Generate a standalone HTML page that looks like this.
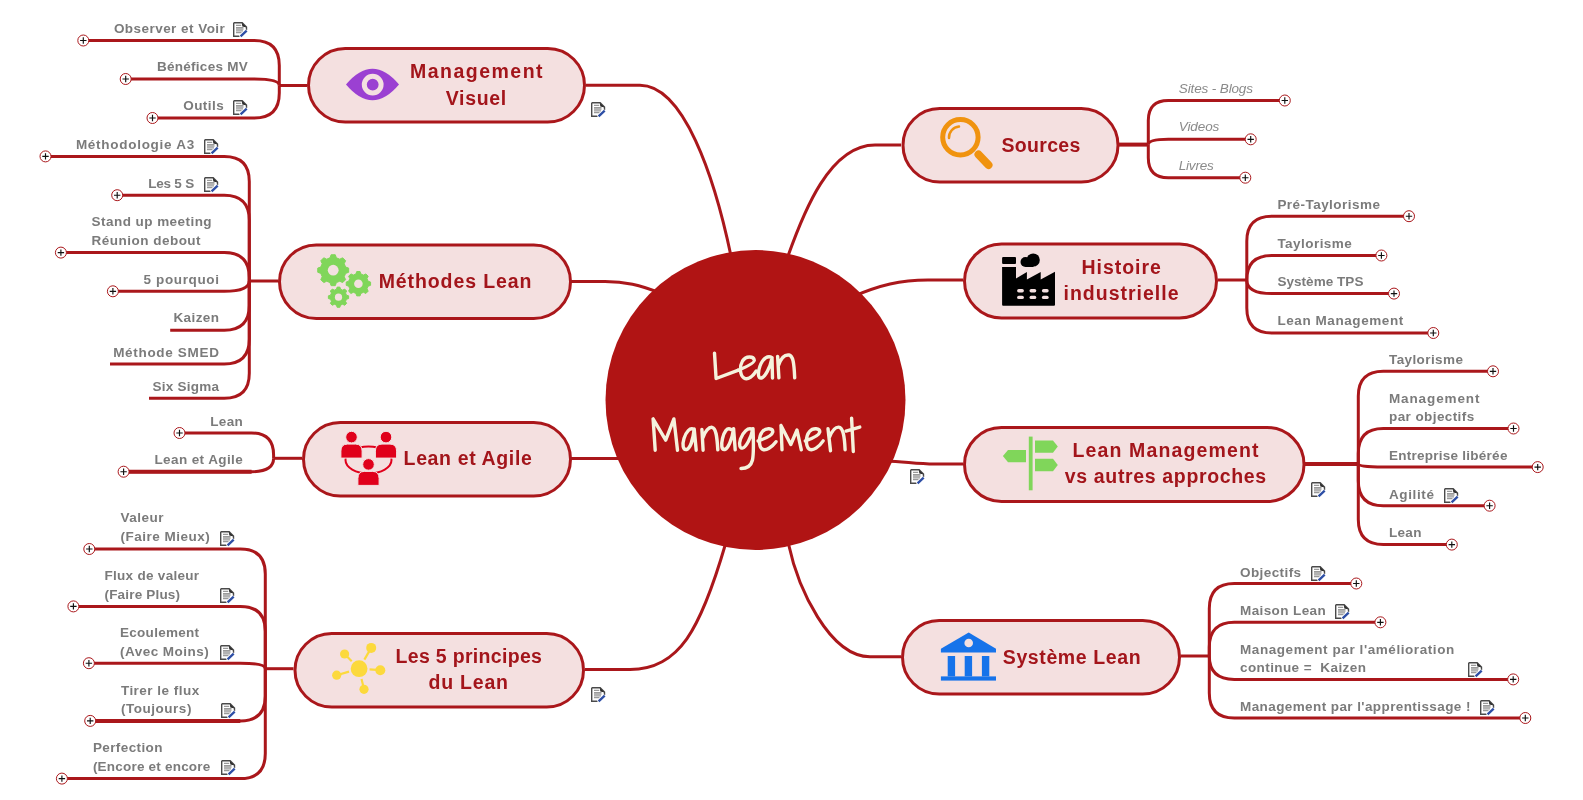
<!DOCTYPE html>
<html><head><meta charset="utf-8"><style>
html,body{margin:0;padding:0;background:#fff;width:1583px;height:800px;overflow:hidden;}
svg{display:block;will-change:transform;}
</style></head><body>
<svg width="1583" height="800" viewBox="0 0 1583 800">
<rect width="1583" height="800" fill="#fff"/>
<path d="M586 85.3 L640 85.3 C 683.7 85.3, 714.4 176.4, 731 256" fill="none" stroke="#aa171b" stroke-width="3"/>
<path d="M571 281.5 L605 281.5 C 625 281.5, 640 285, 660 293" fill="none" stroke="#aa171b" stroke-width="3"/>
<path d="M571 458.4 L625 458.4" fill="none" stroke="#aa171b" stroke-width="3"/>
<path d="M585 669.4 L630 669.4 C 679.2 669.4, 700.5 629.5, 725.5 544" fill="none" stroke="#aa171b" stroke-width="3"/>
<path d="M901 145 L875 145 C 829.7 145, 803.6 212.3, 788 256" fill="none" stroke="#aa171b" stroke-width="3"/>
<path d="M963 280.1 L928 280.1 C 900 280.1, 880 285, 852 297" fill="none" stroke="#aa171b" stroke-width="3"/>
<path d="M963 464 L935 464 C 915 464, 905 461.4, 885 461" fill="none" stroke="#aa171b" stroke-width="3"/>
<path d="M901 656.7 L870 656.7 C 829.4 656.7, 797.9 588.1, 788.5 544" fill="none" stroke="#aa171b" stroke-width="3"/>
<circle cx="755.5" cy="400" r="150" fill="#b01414"/>
<rect x="308.5" y="48.5" width="276.0" height="73.5" rx="36.75" ry="36.75" fill="#f4e0e0" stroke="#aa171b" stroke-width="3"/>
<rect x="279.5" y="245.0" width="291.0" height="73.5" rx="36.75" ry="36.75" fill="#f4e0e0" stroke="#aa171b" stroke-width="3"/>
<rect x="303.5" y="422.5" width="267.0" height="73.5" rx="36.75" ry="36.75" fill="#f4e0e0" stroke="#aa171b" stroke-width="3"/>
<rect x="295.0" y="633.5" width="288.5" height="73.5" rx="36.75" ry="36.75" fill="#f4e0e0" stroke="#aa171b" stroke-width="3"/>
<rect x="903.0" y="108.5" width="215.0" height="73.5" rx="36.75" ry="36.75" fill="#f4e0e0" stroke="#aa171b" stroke-width="3"/>
<rect x="964.5" y="244.0" width="252.0" height="74.0" rx="37.0" ry="37.0" fill="#f4e0e0" stroke="#aa171b" stroke-width="3"/>
<rect x="964.5" y="427.5" width="339.5" height="74.0" rx="37.0" ry="37.0" fill="#f4e0e0" stroke="#aa171b" stroke-width="3"/>
<rect x="902.5" y="620.5" width="277.0" height="73.5" rx="36.75" ry="36.75" fill="#f4e0e0" stroke="#aa171b" stroke-width="3"/>
<text x="409.9" y="78" font-family='"Liberation Sans", sans-serif' font-size="19.5" font-weight="bold" font-style="normal" fill="#a3151b" textLength="132.70000000000002" lengthAdjust="spacing" style="white-space:pre">Management</text>
<text x="445.8" y="105.3" font-family='"Liberation Sans", sans-serif' font-size="19.5" font-weight="bold" font-style="normal" fill="#a3151b" textLength="60.4" lengthAdjust="spacing" style="white-space:pre">Visuel</text>
<text x="378.7" y="288.1" font-family='"Liberation Sans", sans-serif' font-size="19.5" font-weight="bold" font-style="normal" fill="#a3151b" textLength="152.70000000000002" lengthAdjust="spacing" style="white-space:pre">Méthodes Lean</text>
<text x="403.6" y="465.2" font-family='"Liberation Sans", sans-serif' font-size="19.5" font-weight="bold" font-style="normal" fill="#a3151b" textLength="128.20000000000002" lengthAdjust="spacing" style="white-space:pre">Lean et Agile</text>
<text x="395.6" y="662.7" font-family='"Liberation Sans", sans-serif' font-size="19.5" font-weight="bold" font-style="normal" fill="#a3151b" textLength="146.3" lengthAdjust="spacing" style="white-space:pre">Les 5 principes</text>
<text x="428.5" y="689.3" font-family='"Liberation Sans", sans-serif' font-size="19.5" font-weight="bold" font-style="normal" fill="#a3151b" textLength="79.5" lengthAdjust="spacing" style="white-space:pre">du Lean</text>
<text x="1001.4" y="151.5" font-family='"Liberation Sans", sans-serif' font-size="19.5" font-weight="bold" font-style="normal" fill="#a3151b" textLength="79.0" lengthAdjust="spacing" style="white-space:pre">Sources</text>
<text x="1081.5" y="273.8" font-family='"Liberation Sans", sans-serif' font-size="19.5" font-weight="bold" font-style="normal" fill="#a3151b" textLength="79.3" lengthAdjust="spacing" style="white-space:pre">Histoire</text>
<text x="1063.5" y="300.3" font-family='"Liberation Sans", sans-serif' font-size="19.5" font-weight="bold" font-style="normal" fill="#a3151b" textLength="115.0" lengthAdjust="spacing" style="white-space:pre">industrielle</text>
<text x="1072.4" y="456.9" font-family='"Liberation Sans", sans-serif' font-size="19.5" font-weight="bold" font-style="normal" fill="#a3151b" textLength="186.20000000000002" lengthAdjust="spacing" style="white-space:pre">Lean Management</text>
<text x="1064.8" y="483" font-family='"Liberation Sans", sans-serif' font-size="19.5" font-weight="bold" font-style="normal" fill="#a3151b" textLength="201.4" lengthAdjust="spacing" style="white-space:pre">vs autres approches</text>
<text x="1002.8" y="663.7" font-family='"Liberation Sans", sans-serif' font-size="19.5" font-weight="bold" font-style="normal" fill="#a3151b" textLength="137.8" lengthAdjust="spacing" style="white-space:pre">Système Lean</text>
<path d="M307 85.5 H279.3" stroke="#aa171b" stroke-width="3" fill="none"/>
<path d="M279.3 85.5 V65.5 Q279.3 40.5 254.3 40.5 H83.3" stroke="#aa171b" stroke-width="3" fill="none"/>
<path d="M279.3 85.5 V85.5 Q279.3 79 254.3 79 H125.7" stroke="#aa171b" stroke-width="3" fill="none"/>
<path d="M279.3 85.5 V93.0 Q279.3 118 254.3 118 H152.5" stroke="#aa171b" stroke-width="3" fill="none"/>
<circle cx="83.3" cy="40.5" r="5.5" fill="#fff" stroke="#aa171b" stroke-width="1"/><path d="M80.1 40.5 H86.5 M83.3 37.3 V43.7" stroke="#111" stroke-width="1.15"/>
<text x="113.9" y="32.7" font-family='"Liberation Sans", sans-serif' font-size="13.5" font-weight="bold" font-style="normal" fill="#7b7b7b" textLength="110.9" lengthAdjust="spacing" style="white-space:pre">Observer et Voir</text>
<g transform="translate(233,22)"><path d="M0.7 0.7 H9.2 L13.5 5 V8 M6.5 14.3 H0.7 V0.7" fill="#fff" stroke="#4a4a4a" stroke-width="1.4"/><path d="M8.8 0.7 L13.8 5.6 L9.3 4.6 Z" fill="#2a2a2a"/><path d="M3 3.4 H8.2 M3 5.6 H10.5 M3 7.2 H10.5 M3 8.8 H10 M3 10.6 H8.5" stroke="#9a9a9a" stroke-width="1.2"/><path d="M7.2 14.6 L14 8.3" stroke="#fff" stroke-width="3.6" opacity="0.8"/><path d="M7.6 14.3 L13.7 8.6" stroke="#2d4ea5" stroke-width="2.3"/></g>
<circle cx="125.7" cy="79" r="5.5" fill="#fff" stroke="#aa171b" stroke-width="1"/><path d="M122.5 79 H128.9 M125.7 75.8 V82.2" stroke="#111" stroke-width="1.15"/>
<text x="156.89999999999998" y="71.3" font-family='"Liberation Sans", sans-serif' font-size="13.5" font-weight="bold" font-style="normal" fill="#7b7b7b" textLength="90.9" lengthAdjust="spacing" style="white-space:pre">Bénéfices MV</text>
<circle cx="152.5" cy="118" r="5.5" fill="#fff" stroke="#aa171b" stroke-width="1"/><path d="M149.3 118 H155.7 M152.5 114.8 V121.2" stroke="#111" stroke-width="1.15"/>
<text x="183.2" y="110" font-family='"Liberation Sans", sans-serif' font-size="13.5" font-weight="bold" font-style="normal" fill="#7b7b7b" textLength="40.5" lengthAdjust="spacing" style="white-space:pre">Outils</text>
<g transform="translate(233,100)"><path d="M0.7 0.7 H9.2 L13.5 5 V8 M6.5 14.3 H0.7 V0.7" fill="#fff" stroke="#4a4a4a" stroke-width="1.4"/><path d="M8.8 0.7 L13.8 5.6 L9.3 4.6 Z" fill="#2a2a2a"/><path d="M3 3.4 H8.2 M3 5.6 H10.5 M3 7.2 H10.5 M3 8.8 H10 M3 10.6 H8.5" stroke="#9a9a9a" stroke-width="1.2"/><path d="M7.2 14.6 L14 8.3" stroke="#fff" stroke-width="3.6" opacity="0.8"/><path d="M7.6 14.3 L13.7 8.6" stroke="#2d4ea5" stroke-width="2.3"/></g>
<path d="M278.4 281 H249.3" stroke="#aa171b" stroke-width="3" fill="none"/>
<path d="M249.3 281 V181.4 Q249.3 156.4 224.3 156.4 H45.5" stroke="#aa171b" stroke-width="3" fill="none"/>
<path d="M249.3 281 V220.2 Q249.3 195.2 224.3 195.2 H117.2" stroke="#aa171b" stroke-width="3" fill="none"/>
<path d="M249.3 281 V277.6 Q249.3 252.6 224.3 252.6 H60.9" stroke="#aa171b" stroke-width="3" fill="none"/>
<path d="M249.3 281 V281 Q249.3 291.3 224.3 291.3 H112.9" stroke="#aa171b" stroke-width="3" fill="none"/>
<path d="M249.3 281 V305.3 Q249.3 330.3 224.3 330.3 H170.2" stroke="#aa171b" stroke-width="3" fill="none"/>
<path d="M249.3 281 V339 Q249.3 364 224.3 364 H110" stroke="#aa171b" stroke-width="3" fill="none"/>
<path d="M249.3 281 V373.3 Q249.3 398.3 224.3 398.3 H149" stroke="#aa171b" stroke-width="3" fill="none"/>
<circle cx="45.5" cy="156.4" r="5.5" fill="#fff" stroke="#aa171b" stroke-width="1"/><path d="M42.3 156.4 H48.7 M45.5 153.20000000000002 V159.6" stroke="#111" stroke-width="1.15"/>
<text x="75.9" y="148.8" font-family='"Liberation Sans", sans-serif' font-size="13.5" font-weight="bold" font-style="normal" fill="#7b7b7b" textLength="118.3" lengthAdjust="spacing" style="white-space:pre">Méthodologie A3</text>
<g transform="translate(204,139)"><path d="M0.7 0.7 H9.2 L13.5 5 V8 M6.5 14.3 H0.7 V0.7" fill="#fff" stroke="#4a4a4a" stroke-width="1.4"/><path d="M8.8 0.7 L13.8 5.6 L9.3 4.6 Z" fill="#2a2a2a"/><path d="M3 3.4 H8.2 M3 5.6 H10.5 M3 7.2 H10.5 M3 8.8 H10 M3 10.6 H8.5" stroke="#9a9a9a" stroke-width="1.2"/><path d="M7.2 14.6 L14 8.3" stroke="#fff" stroke-width="3.6" opacity="0.8"/><path d="M7.6 14.3 L13.7 8.6" stroke="#2d4ea5" stroke-width="2.3"/></g>
<circle cx="117.2" cy="195.2" r="5.5" fill="#fff" stroke="#aa171b" stroke-width="1"/><path d="M114.0 195.2 H120.4 M117.2 192.0 V198.39999999999998" stroke="#111" stroke-width="1.15"/>
<text x="148.2" y="187.6" font-family='"Liberation Sans", sans-serif' font-size="13.5" font-weight="bold" font-style="normal" fill="#7b7b7b" textLength="46.0" lengthAdjust="spacing" style="white-space:pre">Les 5 S</text>
<g transform="translate(204,177)"><path d="M0.7 0.7 H9.2 L13.5 5 V8 M6.5 14.3 H0.7 V0.7" fill="#fff" stroke="#4a4a4a" stroke-width="1.4"/><path d="M8.8 0.7 L13.8 5.6 L9.3 4.6 Z" fill="#2a2a2a"/><path d="M3 3.4 H8.2 M3 5.6 H10.5 M3 7.2 H10.5 M3 8.8 H10 M3 10.6 H8.5" stroke="#9a9a9a" stroke-width="1.2"/><path d="M7.2 14.6 L14 8.3" stroke="#fff" stroke-width="3.6" opacity="0.8"/><path d="M7.6 14.3 L13.7 8.6" stroke="#2d4ea5" stroke-width="2.3"/></g>
<circle cx="60.9" cy="252.6" r="5.5" fill="#fff" stroke="#aa171b" stroke-width="1"/><path d="M57.699999999999996 252.6 H64.1 M60.9 249.4 V255.79999999999998" stroke="#111" stroke-width="1.15"/>
<text x="91.60000000000001" y="226.1" font-family='"Liberation Sans", sans-serif' font-size="13.5" font-weight="bold" font-style="normal" fill="#7b7b7b" textLength="120.0" lengthAdjust="spacing" style="white-space:pre">Stand up meeting</text>
<text x="91.60000000000001" y="245" font-family='"Liberation Sans", sans-serif' font-size="13.5" font-weight="bold" font-style="normal" fill="#7b7b7b" textLength="109.0" lengthAdjust="spacing" style="white-space:pre">Réunion debout</text>
<circle cx="112.9" cy="291.3" r="5.5" fill="#fff" stroke="#aa171b" stroke-width="1"/><path d="M109.7 291.3 H116.10000000000001 M112.9 288.1 V294.5" stroke="#111" stroke-width="1.15"/>
<text x="143.6" y="283.8" font-family='"Liberation Sans", sans-serif' font-size="13.5" font-weight="bold" font-style="normal" fill="#7b7b7b" textLength="75.3" lengthAdjust="spacing" style="white-space:pre">5 pourquoi</text>
<text x="173.5" y="322.4" font-family='"Liberation Sans", sans-serif' font-size="13.5" font-weight="bold" font-style="normal" fill="#7b7b7b" textLength="45.400000000000006" lengthAdjust="spacing" style="white-space:pre">Kaizen</text>
<text x="113.2" y="356.5" font-family='"Liberation Sans", sans-serif' font-size="13.5" font-weight="bold" font-style="normal" fill="#7b7b7b" textLength="105.7" lengthAdjust="spacing" style="white-space:pre">Méthode SMED</text>
<text x="152.6" y="390.8" font-family='"Liberation Sans", sans-serif' font-size="13.5" font-weight="bold" font-style="normal" fill="#7b7b7b" textLength="66.3" lengthAdjust="spacing" style="white-space:pre">Six Sigma</text>
<path d="M302 458.3 H273.6" stroke="#aa171b" stroke-width="3" fill="none"/>
<path d="M273.6 458.3 V455.0 Q273.6 433 251.60000000000002 433 H179.5" stroke="#aa171b" stroke-width="3" fill="none"/>
<path d="M273.6 458.3 V458.3 Q273.6 471.7 251.60000000000002 471.7 H123.6" stroke="#aa171b" stroke-width="3" fill="none"/>
<path d="M123.6 471.7 H251.60000000000002" stroke="#aa171b" stroke-width="4" fill="none"/>
<circle cx="179.5" cy="433" r="5.5" fill="#fff" stroke="#aa171b" stroke-width="1"/><path d="M176.3 433 H182.7 M179.5 429.8 V436.2" stroke="#111" stroke-width="1.15"/>
<text x="210.2" y="425.6" font-family='"Liberation Sans", sans-serif' font-size="13.5" font-weight="bold" font-style="normal" fill="#7b7b7b" textLength="32.6" lengthAdjust="spacing" style="white-space:pre">Lean</text>
<circle cx="123.6" cy="471.7" r="5.5" fill="#fff" stroke="#aa171b" stroke-width="1"/><path d="M120.39999999999999 471.7 H126.8 M123.6 468.5 V474.9" stroke="#111" stroke-width="1.15"/>
<text x="154.39999999999998" y="464.4" font-family='"Liberation Sans", sans-serif' font-size="13.5" font-weight="bold" font-style="normal" fill="#7b7b7b" textLength="88.4" lengthAdjust="spacing" style="white-space:pre">Lean et Agile</text>
<path d="M293.5 668.7 H265.3" stroke="#aa171b" stroke-width="3" fill="none"/>
<path d="M265.3 668.7 V574.0 Q265.3 549 240.3 549 H89.3" stroke="#aa171b" stroke-width="3" fill="none"/>
<path d="M265.3 668.7 V631.4 Q265.3 606.4 240.3 606.4 H73.4" stroke="#aa171b" stroke-width="3" fill="none"/>
<path d="M265.3 668.7 V668.7 Q265.3 663.2 240.3 663.2 H88.9" stroke="#aa171b" stroke-width="3" fill="none"/>
<path d="M265.3 668.7 V695.9 Q265.3 720.9 240.3 720.9 H90.2" stroke="#aa171b" stroke-width="3" fill="none"/>
<path d="M90.2 720.9 H240.3" stroke="#aa171b" stroke-width="4" fill="none"/>
<path d="M265.3 668.7 V753.6 Q265.3 778.6 240.3 778.6 H61.9" stroke="#aa171b" stroke-width="3" fill="none"/>
<circle cx="89.3" cy="549" r="5.5" fill="#fff" stroke="#aa171b" stroke-width="1"/><path d="M86.1 549 H92.5 M89.3 545.8 V552.2" stroke="#111" stroke-width="1.15"/>
<text x="120.4" y="522.4" font-family='"Liberation Sans", sans-serif' font-size="13.5" font-weight="bold" font-style="normal" fill="#7b7b7b" textLength="43.2" lengthAdjust="spacing" style="white-space:pre">Valeur</text>
<text x="120.4" y="541.1" font-family='"Liberation Sans", sans-serif' font-size="13.5" font-weight="bold" font-style="normal" fill="#7b7b7b" textLength="89.4" lengthAdjust="spacing" style="white-space:pre">(Faire Mieux)</text>
<g transform="translate(220,531)"><path d="M0.7 0.7 H9.2 L13.5 5 V8 M6.5 14.3 H0.7 V0.7" fill="#fff" stroke="#4a4a4a" stroke-width="1.4"/><path d="M8.8 0.7 L13.8 5.6 L9.3 4.6 Z" fill="#2a2a2a"/><path d="M3 3.4 H8.2 M3 5.6 H10.5 M3 7.2 H10.5 M3 8.8 H10 M3 10.6 H8.5" stroke="#9a9a9a" stroke-width="1.2"/><path d="M7.2 14.6 L14 8.3" stroke="#fff" stroke-width="3.6" opacity="0.8"/><path d="M7.6 14.3 L13.7 8.6" stroke="#2d4ea5" stroke-width="2.3"/></g>
<circle cx="73.4" cy="606.4" r="5.5" fill="#fff" stroke="#aa171b" stroke-width="1"/><path d="M70.2 606.4 H76.60000000000001 M73.4 603.1999999999999 V609.6" stroke="#111" stroke-width="1.15"/>
<text x="104.5" y="579.8" font-family='"Liberation Sans", sans-serif' font-size="13.5" font-weight="bold" font-style="normal" fill="#7b7b7b" textLength="94.60000000000001" lengthAdjust="spacing" style="white-space:pre">Flux de valeur</text>
<text x="104.5" y="598.5" font-family='"Liberation Sans", sans-serif' font-size="13.5" font-weight="bold" font-style="normal" fill="#7b7b7b" textLength="75.5" lengthAdjust="spacing" style="white-space:pre">(Faire Plus)</text>
<g transform="translate(220,588)"><path d="M0.7 0.7 H9.2 L13.5 5 V8 M6.5 14.3 H0.7 V0.7" fill="#fff" stroke="#4a4a4a" stroke-width="1.4"/><path d="M8.8 0.7 L13.8 5.6 L9.3 4.6 Z" fill="#2a2a2a"/><path d="M3 3.4 H8.2 M3 5.6 H10.5 M3 7.2 H10.5 M3 8.8 H10 M3 10.6 H8.5" stroke="#9a9a9a" stroke-width="1.2"/><path d="M7.2 14.6 L14 8.3" stroke="#fff" stroke-width="3.6" opacity="0.8"/><path d="M7.6 14.3 L13.7 8.6" stroke="#2d4ea5" stroke-width="2.3"/></g>
<circle cx="88.9" cy="663.2" r="5.5" fill="#fff" stroke="#aa171b" stroke-width="1"/><path d="M85.7 663.2 H92.10000000000001 M88.9 660.0 V666.4000000000001" stroke="#111" stroke-width="1.15"/>
<text x="120.0" y="637.2" font-family='"Liberation Sans", sans-serif' font-size="13.5" font-weight="bold" font-style="normal" fill="#7b7b7b" textLength="79.10000000000001" lengthAdjust="spacing" style="white-space:pre">Ecoulement</text>
<text x="120.0" y="656" font-family='"Liberation Sans", sans-serif' font-size="13.5" font-weight="bold" font-style="normal" fill="#7b7b7b" textLength="88.7" lengthAdjust="spacing" style="white-space:pre">(Avec Moins)</text>
<g transform="translate(220,645)"><path d="M0.7 0.7 H9.2 L13.5 5 V8 M6.5 14.3 H0.7 V0.7" fill="#fff" stroke="#4a4a4a" stroke-width="1.4"/><path d="M8.8 0.7 L13.8 5.6 L9.3 4.6 Z" fill="#2a2a2a"/><path d="M3 3.4 H8.2 M3 5.6 H10.5 M3 7.2 H10.5 M3 8.8 H10 M3 10.6 H8.5" stroke="#9a9a9a" stroke-width="1.2"/><path d="M7.2 14.6 L14 8.3" stroke="#fff" stroke-width="3.6" opacity="0.8"/><path d="M7.6 14.3 L13.7 8.6" stroke="#2d4ea5" stroke-width="2.3"/></g>
<circle cx="90.2" cy="720.9" r="5.5" fill="#fff" stroke="#aa171b" stroke-width="1"/><path d="M87.0 720.9 H93.4 M90.2 717.6999999999999 V724.1" stroke="#111" stroke-width="1.15"/>
<text x="120.9" y="694.6" font-family='"Liberation Sans", sans-serif' font-size="13.5" font-weight="bold" font-style="normal" fill="#7b7b7b" textLength="78.3" lengthAdjust="spacing" style="white-space:pre">Tirer le flux</text>
<text x="120.9" y="713" font-family='"Liberation Sans", sans-serif' font-size="13.5" font-weight="bold" font-style="normal" fill="#7b7b7b" textLength="70.5" lengthAdjust="spacing" style="white-space:pre">(Toujours)</text>
<g transform="translate(221,703)"><path d="M0.7 0.7 H9.2 L13.5 5 V8 M6.5 14.3 H0.7 V0.7" fill="#fff" stroke="#4a4a4a" stroke-width="1.4"/><path d="M8.8 0.7 L13.8 5.6 L9.3 4.6 Z" fill="#2a2a2a"/><path d="M3 3.4 H8.2 M3 5.6 H10.5 M3 7.2 H10.5 M3 8.8 H10 M3 10.6 H8.5" stroke="#9a9a9a" stroke-width="1.2"/><path d="M7.2 14.6 L14 8.3" stroke="#fff" stroke-width="3.6" opacity="0.8"/><path d="M7.6 14.3 L13.7 8.6" stroke="#2d4ea5" stroke-width="2.3"/></g>
<circle cx="61.9" cy="778.6" r="5.5" fill="#fff" stroke="#aa171b" stroke-width="1"/><path d="M58.699999999999996 778.6 H65.1 M61.9 775.4 V781.8000000000001" stroke="#111" stroke-width="1.15"/>
<text x="92.9" y="751.8" font-family='"Liberation Sans", sans-serif' font-size="13.5" font-weight="bold" font-style="normal" fill="#7b7b7b" textLength="69.60000000000001" lengthAdjust="spacing" style="white-space:pre">Perfection</text>
<text x="92.9" y="770.7" font-family='"Liberation Sans", sans-serif' font-size="13.5" font-weight="bold" font-style="normal" fill="#7b7b7b" textLength="117.4" lengthAdjust="spacing" style="white-space:pre">(Encore et encore</text>
<g transform="translate(221,760)"><path d="M0.7 0.7 H9.2 L13.5 5 V8 M6.5 14.3 H0.7 V0.7" fill="#fff" stroke="#4a4a4a" stroke-width="1.4"/><path d="M8.8 0.7 L13.8 5.6 L9.3 4.6 Z" fill="#2a2a2a"/><path d="M3 3.4 H8.2 M3 5.6 H10.5 M3 7.2 H10.5 M3 8.8 H10 M3 10.6 H8.5" stroke="#9a9a9a" stroke-width="1.2"/><path d="M7.2 14.6 L14 8.3" stroke="#fff" stroke-width="3.6" opacity="0.8"/><path d="M7.6 14.3 L13.7 8.6" stroke="#2d4ea5" stroke-width="2.3"/></g>
<path d="M1119 144.6 H1148.3" stroke="#aa171b" stroke-width="4" fill="none"/>
<path d="M1148.3 144.6 V120.5 Q1148.3 100.5 1168.3 100.5 H1284.8" stroke="#aa171b" stroke-width="3" fill="none"/>
<path d="M1148.3 144.6 V144.6 Q1148.3 139.3 1168.3 139.3 H1250.7" stroke="#aa171b" stroke-width="3" fill="none"/>
<path d="M1148.3 144.6 V157.7 Q1148.3 177.7 1168.3 177.7 H1245.3" stroke="#aa171b" stroke-width="3" fill="none"/>
<circle cx="1284.8" cy="100.5" r="5.5" fill="#fff" stroke="#aa171b" stroke-width="1"/><path d="M1281.6 100.5 H1288.0 M1284.8 97.3 V103.7" stroke="#111" stroke-width="1.15"/>
<text x="1178.8" y="92.8" font-family='"Liberation Sans", sans-serif' font-size="13.5" font-weight="normal" font-style="italic" fill="#8a8a8a" textLength="74.2" lengthAdjust="spacing" style="white-space:pre">Sites - Blogs</text>
<circle cx="1250.7" cy="139.3" r="5.5" fill="#fff" stroke="#aa171b" stroke-width="1"/><path d="M1247.5 139.3 H1253.9 M1250.7 136.10000000000002 V142.5" stroke="#111" stroke-width="1.15"/>
<text x="1178.8" y="131.2" font-family='"Liberation Sans", sans-serif' font-size="13.5" font-weight="normal" font-style="italic" fill="#8a8a8a" textLength="40.5" lengthAdjust="spacing" style="white-space:pre">Videos</text>
<circle cx="1245.3" cy="177.7" r="5.5" fill="#fff" stroke="#aa171b" stroke-width="1"/><path d="M1242.1 177.7 H1248.5 M1245.3 174.5 V180.89999999999998" stroke="#111" stroke-width="1.15"/>
<text x="1178.8" y="169.8" font-family='"Liberation Sans", sans-serif' font-size="13.5" font-weight="normal" font-style="italic" fill="#8a8a8a" textLength="34.9" lengthAdjust="spacing" style="white-space:pre">Livres</text>
<path d="M1217.7 280 H1246.8" stroke="#aa171b" stroke-width="3" fill="none"/>
<path d="M1246.8 280 V241.2 Q1246.8 216.2 1271.8 216.2 H1409" stroke="#aa171b" stroke-width="3" fill="none"/>
<path d="M1246.8 280 V280 Q1246.8 255.5 1271.8 255.5 H1381.4" stroke="#aa171b" stroke-width="3" fill="none"/>
<path d="M1246.8 280 V280 Q1246.8 293.6 1271.8 293.6 H1394" stroke="#aa171b" stroke-width="3" fill="none"/>
<path d="M1246.8 280 V308 Q1246.8 333 1271.8 333 H1433.3" stroke="#aa171b" stroke-width="3" fill="none"/>
<circle cx="1409" cy="216.2" r="5.5" fill="#fff" stroke="#aa171b" stroke-width="1"/><path d="M1405.8 216.2 H1412.2 M1409 213.0 V219.39999999999998" stroke="#111" stroke-width="1.15"/>
<text x="1277.4" y="209" font-family='"Liberation Sans", sans-serif' font-size="13.5" font-weight="bold" font-style="normal" fill="#7b7b7b" textLength="102.5" lengthAdjust="spacing" style="white-space:pre">Pré-Taylorisme</text>
<circle cx="1381.4" cy="255.5" r="5.5" fill="#fff" stroke="#aa171b" stroke-width="1"/><path d="M1378.2 255.5 H1384.6000000000001 M1381.4 252.3 V258.7" stroke="#111" stroke-width="1.15"/>
<text x="1277.4" y="247.7" font-family='"Liberation Sans", sans-serif' font-size="13.5" font-weight="bold" font-style="normal" fill="#7b7b7b" textLength="74.4" lengthAdjust="spacing" style="white-space:pre">Taylorisme</text>
<circle cx="1394" cy="293.6" r="5.5" fill="#fff" stroke="#aa171b" stroke-width="1"/><path d="M1390.8 293.6 H1397.2 M1394 290.40000000000003 V296.8" stroke="#111" stroke-width="1.15"/>
<text x="1277.4" y="285.9" font-family='"Liberation Sans", sans-serif' font-size="13.5" font-weight="bold" font-style="normal" fill="#7b7b7b" textLength="86.0" lengthAdjust="spacing" style="white-space:pre">Système TPS</text>
<circle cx="1433.3" cy="333" r="5.5" fill="#fff" stroke="#aa171b" stroke-width="1"/><path d="M1430.1 333 H1436.5 M1433.3 329.8 V336.2" stroke="#111" stroke-width="1.15"/>
<text x="1277.4" y="324.6" font-family='"Liberation Sans", sans-serif' font-size="13.5" font-weight="bold" font-style="normal" fill="#7b7b7b" textLength="125.8" lengthAdjust="spacing" style="white-space:pre">Lean Management</text>
<path d="M1305 464 H1358.3" stroke="#aa171b" stroke-width="4" fill="none"/>
<path d="M1358.3 464 V396.3 Q1358.3 371.3 1383.3 371.3 H1493" stroke="#aa171b" stroke-width="3" fill="none"/>
<path d="M1358.3 464 V453.5 Q1358.3 428.5 1383.3 428.5 H1513.5" stroke="#aa171b" stroke-width="3" fill="none"/>
<path d="M1358.3 464 V464 Q1358.3 467.1 1383.3 467.1 H1537.7" stroke="#aa171b" stroke-width="3" fill="none"/>
<path d="M1358.3 464 V480.7 Q1358.3 505.7 1383.3 505.7 H1489.6" stroke="#aa171b" stroke-width="3" fill="none"/>
<path d="M1358.3 464 V519.6 Q1358.3 544.6 1383.3 544.6 H1451.8" stroke="#aa171b" stroke-width="3" fill="none"/>
<circle cx="1493" cy="371.3" r="5.5" fill="#fff" stroke="#aa171b" stroke-width="1"/><path d="M1489.8 371.3 H1496.2 M1493 368.1 V374.5" stroke="#111" stroke-width="1.15"/>
<text x="1389.0" y="363.9" font-family='"Liberation Sans", sans-serif' font-size="13.5" font-weight="bold" font-style="normal" fill="#7b7b7b" textLength="73.9" lengthAdjust="spacing" style="white-space:pre">Taylorisme</text>
<circle cx="1513.5" cy="428.5" r="5.5" fill="#fff" stroke="#aa171b" stroke-width="1"/><path d="M1510.3 428.5 H1516.7 M1513.5 425.3 V431.7" stroke="#111" stroke-width="1.15"/>
<text x="1389.0" y="402.8" font-family='"Liberation Sans", sans-serif' font-size="13.5" font-weight="bold" font-style="normal" fill="#7b7b7b" textLength="90.4" lengthAdjust="spacing" style="white-space:pre">Management</text>
<text x="1389.0" y="421.2" font-family='"Liberation Sans", sans-serif' font-size="13.5" font-weight="bold" font-style="normal" fill="#7b7b7b" textLength="85.2" lengthAdjust="spacing" style="white-space:pre">par objectifs</text>
<circle cx="1537.7" cy="467.1" r="5.5" fill="#fff" stroke="#aa171b" stroke-width="1"/><path d="M1534.5 467.1 H1540.9 M1537.7 463.90000000000003 V470.3" stroke="#111" stroke-width="1.15"/>
<text x="1389.0" y="460" font-family='"Liberation Sans", sans-serif' font-size="13.5" font-weight="bold" font-style="normal" fill="#7b7b7b" textLength="118.4" lengthAdjust="spacing" style="white-space:pre">Entreprise libérée</text>
<circle cx="1489.6" cy="505.7" r="5.5" fill="#fff" stroke="#aa171b" stroke-width="1"/><path d="M1486.3999999999999 505.7 H1492.8 M1489.6 502.5 V508.9" stroke="#111" stroke-width="1.15"/>
<text x="1389.0" y="498.6" font-family='"Liberation Sans", sans-serif' font-size="13.5" font-weight="bold" font-style="normal" fill="#7b7b7b" textLength="45.0" lengthAdjust="spacing" style="white-space:pre">Agilité</text>
<g transform="translate(1444,488)"><path d="M0.7 0.7 H9.2 L13.5 5 V8 M6.5 14.3 H0.7 V0.7" fill="#fff" stroke="#4a4a4a" stroke-width="1.4"/><path d="M8.8 0.7 L13.8 5.6 L9.3 4.6 Z" fill="#2a2a2a"/><path d="M3 3.4 H8.2 M3 5.6 H10.5 M3 7.2 H10.5 M3 8.8 H10 M3 10.6 H8.5" stroke="#9a9a9a" stroke-width="1.2"/><path d="M7.2 14.6 L14 8.3" stroke="#fff" stroke-width="3.6" opacity="0.8"/><path d="M7.6 14.3 L13.7 8.6" stroke="#2d4ea5" stroke-width="2.3"/></g>
<circle cx="1451.8" cy="544.6" r="5.5" fill="#fff" stroke="#aa171b" stroke-width="1"/><path d="M1448.6 544.6 H1455.0 M1451.8 541.4 V547.8000000000001" stroke="#111" stroke-width="1.15"/>
<text x="1389.0" y="537.2" font-family='"Liberation Sans", sans-serif' font-size="13.5" font-weight="bold" font-style="normal" fill="#7b7b7b" textLength="32.4" lengthAdjust="spacing" style="white-space:pre">Lean</text>
<path d="M1180.5 656 H1209.3" stroke="#aa171b" stroke-width="3" fill="none"/>
<path d="M1209.3 656 V608.5 Q1209.3 583.5 1234.3 583.5 H1356.3" stroke="#aa171b" stroke-width="3" fill="none"/>
<path d="M1209.3 656 V647.3 Q1209.3 622.3 1234.3 622.3 H1380.4" stroke="#aa171b" stroke-width="3" fill="none"/>
<path d="M1209.3 656 V656 Q1209.3 679.4 1234.3 679.4 H1513.2" stroke="#aa171b" stroke-width="3" fill="none"/>
<path d="M1209.3 656 V693 Q1209.3 718 1234.3 718 H1525.3" stroke="#aa171b" stroke-width="3" fill="none"/>
<circle cx="1356.3" cy="583.5" r="5.5" fill="#fff" stroke="#aa171b" stroke-width="1"/><path d="M1353.1 583.5 H1359.5 M1356.3 580.3 V586.7" stroke="#111" stroke-width="1.15"/>
<text x="1240.0" y="576.5" font-family='"Liberation Sans", sans-serif' font-size="13.5" font-weight="bold" font-style="normal" fill="#7b7b7b" textLength="61.1" lengthAdjust="spacing" style="white-space:pre">Objectifs</text>
<g transform="translate(1311,566)"><path d="M0.7 0.7 H9.2 L13.5 5 V8 M6.5 14.3 H0.7 V0.7" fill="#fff" stroke="#4a4a4a" stroke-width="1.4"/><path d="M8.8 0.7 L13.8 5.6 L9.3 4.6 Z" fill="#2a2a2a"/><path d="M3 3.4 H8.2 M3 5.6 H10.5 M3 7.2 H10.5 M3 8.8 H10 M3 10.6 H8.5" stroke="#9a9a9a" stroke-width="1.2"/><path d="M7.2 14.6 L14 8.3" stroke="#fff" stroke-width="3.6" opacity="0.8"/><path d="M7.6 14.3 L13.7 8.6" stroke="#2d4ea5" stroke-width="2.3"/></g>
<circle cx="1380.4" cy="622.3" r="5.5" fill="#fff" stroke="#aa171b" stroke-width="1"/><path d="M1377.2 622.3 H1383.6000000000001 M1380.4 619.0999999999999 V625.5" stroke="#111" stroke-width="1.15"/>
<text x="1240.0" y="615.3" font-family='"Liberation Sans", sans-serif' font-size="13.5" font-weight="bold" font-style="normal" fill="#7b7b7b" textLength="85.7" lengthAdjust="spacing" style="white-space:pre">Maison Lean</text>
<g transform="translate(1335,604)"><path d="M0.7 0.7 H9.2 L13.5 5 V8 M6.5 14.3 H0.7 V0.7" fill="#fff" stroke="#4a4a4a" stroke-width="1.4"/><path d="M8.8 0.7 L13.8 5.6 L9.3 4.6 Z" fill="#2a2a2a"/><path d="M3 3.4 H8.2 M3 5.6 H10.5 M3 7.2 H10.5 M3 8.8 H10 M3 10.6 H8.5" stroke="#9a9a9a" stroke-width="1.2"/><path d="M7.2 14.6 L14 8.3" stroke="#fff" stroke-width="3.6" opacity="0.8"/><path d="M7.6 14.3 L13.7 8.6" stroke="#2d4ea5" stroke-width="2.3"/></g>
<circle cx="1513.2" cy="679.4" r="5.5" fill="#fff" stroke="#aa171b" stroke-width="1"/><path d="M1510.0 679.4 H1516.4 M1513.2 676.1999999999999 V682.6" stroke="#111" stroke-width="1.15"/>
<text x="1240.0" y="653.6" font-family='"Liberation Sans", sans-serif' font-size="13.5" font-weight="bold" font-style="normal" fill="#7b7b7b" textLength="214.2" lengthAdjust="spacing" style="white-space:pre">Management par l&#39;amélioration</text>
<text x="1240.0" y="671.9" font-family='"Liberation Sans", sans-serif' font-size="13.5" font-weight="bold" font-style="normal" fill="#7b7b7b" textLength="125.9" lengthAdjust="spacing" style="white-space:pre">continue =  Kaizen</text>
<g transform="translate(1468,662)"><path d="M0.7 0.7 H9.2 L13.5 5 V8 M6.5 14.3 H0.7 V0.7" fill="#fff" stroke="#4a4a4a" stroke-width="1.4"/><path d="M8.8 0.7 L13.8 5.6 L9.3 4.6 Z" fill="#2a2a2a"/><path d="M3 3.4 H8.2 M3 5.6 H10.5 M3 7.2 H10.5 M3 8.8 H10 M3 10.6 H8.5" stroke="#9a9a9a" stroke-width="1.2"/><path d="M7.2 14.6 L14 8.3" stroke="#fff" stroke-width="3.6" opacity="0.8"/><path d="M7.6 14.3 L13.7 8.6" stroke="#2d4ea5" stroke-width="2.3"/></g>
<circle cx="1525.3" cy="718" r="5.5" fill="#fff" stroke="#aa171b" stroke-width="1"/><path d="M1522.1 718 H1528.5 M1525.3 714.8 V721.2" stroke="#111" stroke-width="1.15"/>
<text x="1240.0" y="711.1" font-family='"Liberation Sans", sans-serif' font-size="13.5" font-weight="bold" font-style="normal" fill="#7b7b7b" textLength="230.39999999999998" lengthAdjust="spacing" style="white-space:pre">Management par l&#39;apprentissage !</text>
<g transform="translate(1480,700)"><path d="M0.7 0.7 H9.2 L13.5 5 V8 M6.5 14.3 H0.7 V0.7" fill="#fff" stroke="#4a4a4a" stroke-width="1.4"/><path d="M8.8 0.7 L13.8 5.6 L9.3 4.6 Z" fill="#2a2a2a"/><path d="M3 3.4 H8.2 M3 5.6 H10.5 M3 7.2 H10.5 M3 8.8 H10 M3 10.6 H8.5" stroke="#9a9a9a" stroke-width="1.2"/><path d="M7.2 14.6 L14 8.3" stroke="#fff" stroke-width="3.6" opacity="0.8"/><path d="M7.6 14.3 L13.7 8.6" stroke="#2d4ea5" stroke-width="2.3"/></g>
<g transform="translate(591,102)"><path d="M0.7 0.7 H9.2 L13.5 5 V8 M6.5 14.3 H0.7 V0.7" fill="#fff" stroke="#4a4a4a" stroke-width="1.4"/><path d="M8.8 0.7 L13.8 5.6 L9.3 4.6 Z" fill="#2a2a2a"/><path d="M3 3.4 H8.2 M3 5.6 H10.5 M3 7.2 H10.5 M3 8.8 H10 M3 10.6 H8.5" stroke="#9a9a9a" stroke-width="1.2"/><path d="M7.2 14.6 L14 8.3" stroke="#fff" stroke-width="3.6" opacity="0.8"/><path d="M7.6 14.3 L13.7 8.6" stroke="#2d4ea5" stroke-width="2.3"/></g>
<g transform="translate(910,469)"><path d="M0.7 0.7 H9.2 L13.5 5 V8 M6.5 14.3 H0.7 V0.7" fill="#fff" stroke="#4a4a4a" stroke-width="1.4"/><path d="M8.8 0.7 L13.8 5.6 L9.3 4.6 Z" fill="#2a2a2a"/><path d="M3 3.4 H8.2 M3 5.6 H10.5 M3 7.2 H10.5 M3 8.8 H10 M3 10.6 H8.5" stroke="#9a9a9a" stroke-width="1.2"/><path d="M7.2 14.6 L14 8.3" stroke="#fff" stroke-width="3.6" opacity="0.8"/><path d="M7.6 14.3 L13.7 8.6" stroke="#2d4ea5" stroke-width="2.3"/></g>
<g transform="translate(1311,482)"><path d="M0.7 0.7 H9.2 L13.5 5 V8 M6.5 14.3 H0.7 V0.7" fill="#fff" stroke="#4a4a4a" stroke-width="1.4"/><path d="M8.8 0.7 L13.8 5.6 L9.3 4.6 Z" fill="#2a2a2a"/><path d="M3 3.4 H8.2 M3 5.6 H10.5 M3 7.2 H10.5 M3 8.8 H10 M3 10.6 H8.5" stroke="#9a9a9a" stroke-width="1.2"/><path d="M7.2 14.6 L14 8.3" stroke="#fff" stroke-width="3.6" opacity="0.8"/><path d="M7.6 14.3 L13.7 8.6" stroke="#2d4ea5" stroke-width="2.3"/></g>
<g transform="translate(591,687)"><path d="M0.7 0.7 H9.2 L13.5 5 V8 M6.5 14.3 H0.7 V0.7" fill="#fff" stroke="#4a4a4a" stroke-width="1.4"/><path d="M8.8 0.7 L13.8 5.6 L9.3 4.6 Z" fill="#2a2a2a"/><path d="M3 3.4 H8.2 M3 5.6 H10.5 M3 7.2 H10.5 M3 8.8 H10 M3 10.6 H8.5" stroke="#9a9a9a" stroke-width="1.2"/><path d="M7.2 14.6 L14 8.3" stroke="#fff" stroke-width="3.6" opacity="0.8"/><path d="M7.6 14.3 L13.7 8.6" stroke="#2d4ea5" stroke-width="2.3"/></g>
<path d="M346 84.5 Q372.5 53 399 84.5 Q372.5 116 346 84.5 Z" fill="#9b40d2"/><circle cx="372.7" cy="84.6" r="8.4" fill="none" stroke="#f4e0e0" stroke-width="5"/>
<path d="M345.60 267.02 L348.66 268.12 L348.66 272.28 L345.60 273.38 L344.22 276.72 L345.60 279.66 L342.66 282.60 L339.72 281.22 L336.38 282.60 L335.28 285.66 L331.12 285.66 L330.02 282.60 L326.68 281.22 L323.74 282.60 L320.80 279.66 L322.18 276.72 L320.80 273.38 L317.74 272.28 L317.74 268.12 L320.80 267.02 L322.18 263.68 L320.80 260.74 L323.74 257.80 L326.68 259.18 L330.02 257.80 L331.12 254.74 L335.28 254.74 L336.38 257.80 L339.72 259.18 L342.66 257.80 L345.60 260.74 L344.22 263.68 Z" fill="#80d65a" stroke="#80d65a" stroke-width="1" stroke-linejoin="round"/>
<circle cx="333.2" cy="270.2" r="5.4" fill="#f4e0e0"/>
<path d="M368.09 281.21 L370.59 282.06 L370.59 285.34 L368.09 286.19 L367.01 288.79 L368.18 291.16 L365.86 293.48 L363.49 292.31 L360.89 293.39 L360.04 295.89 L356.76 295.89 L355.91 293.39 L353.31 292.31 L350.94 293.48 L348.62 291.16 L349.79 288.79 L348.71 286.19 L346.21 285.34 L346.21 282.06 L348.71 281.21 L349.79 278.61 L348.62 276.24 L350.94 273.92 L353.31 275.09 L355.91 274.01 L356.76 271.51 L360.04 271.51 L360.89 274.01 L363.49 275.09 L365.86 273.92 L368.18 276.24 L367.01 278.61 Z" fill="#80d65a" stroke="#80d65a" stroke-width="1" stroke-linejoin="round"/>
<circle cx="358.4" cy="283.7" r="4.3" fill="#f4e0e0"/>
<path d="M346.44 295.16 L348.61 295.84 L348.61 298.56 L346.44 299.24 L345.56 301.37 L346.61 303.39 L344.69 305.31 L342.67 304.26 L340.54 305.14 L339.86 307.31 L337.14 307.31 L336.46 305.14 L334.33 304.26 L332.31 305.31 L330.39 303.39 L331.44 301.37 L330.56 299.24 L328.39 298.56 L328.39 295.84 L330.56 295.16 L331.44 293.03 L330.39 291.01 L332.31 289.09 L334.33 290.14 L336.46 289.26 L337.14 287.09 L339.86 287.09 L340.54 289.26 L342.67 290.14 L344.69 289.09 L346.61 291.01 L345.56 293.03 Z" fill="#80d65a" stroke="#80d65a" stroke-width="1" stroke-linejoin="round"/>
<circle cx="338.5" cy="297.2" r="3.6" fill="#f4e0e0"/>
<ellipse cx="368.5" cy="460" rx="23" ry="13.5" fill="none" stroke="#e0001b" stroke-width="2"/>
<circle cx="351.5" cy="437.1" r="5.8" fill="#e0001b" stroke="#f4e0e0" stroke-width="1"/>
<path d="M340.9 458.1 V451.1 Q340.9 444.1 347.5 444.1 H355.5 Q362.1 444.1 362.1 451.1 V458.1 Z" fill="#e0001b" stroke="#f4e0e0" stroke-width="1"/>
<circle cx="386" cy="437.1" r="5.8" fill="#e0001b" stroke="#f4e0e0" stroke-width="1"/>
<path d="M375.4 458.1 V451.1 Q375.4 444.1 382 444.1 H390 Q396.6 444.1 396.6 451.1 V458.1 Z" fill="#e0001b" stroke="#f4e0e0" stroke-width="1"/>
<circle cx="368.5" cy="464.4" r="5.8" fill="#e0001b" stroke="#f4e0e0" stroke-width="1"/>
<path d="M357.9 485.4 V478.4 Q357.9 471.4 364.5 471.4 H372.5 Q379.1 471.4 379.1 478.4 V485.4 Z" fill="#e0001b" stroke="#f4e0e0" stroke-width="1"/>
<path d="M364.38 659.62 L371.2 647.9" stroke="#fcd93c" stroke-width="2.2"/>
<circle cx="371.2" cy="647.9" r="5" fill="#fcd93c"/>
<path d="M351.73 661.22 L344.6 654" stroke="#fcd93c" stroke-width="2.2"/>
<circle cx="344.6" cy="654" r="4.6" fill="#fcd93c"/>
<path d="M369.57 669.44 L380.3 670.2" stroke="#fcd93c" stroke-width="2.2"/>
<circle cx="380.3" cy="670.2" r="5" fill="#fcd93c"/>
<path d="M349.02 671.63 L336.7 675.2" stroke="#fcd93c" stroke-width="2.2"/>
<circle cx="336.7" cy="675.2" r="4.6" fill="#fcd93c"/>
<path d="M361.53 678.91 L364 689.3" stroke="#fcd93c" stroke-width="2.2"/>
<circle cx="364" cy="689.3" r="4.6" fill="#fcd93c"/>
<circle cx="359.1" cy="668.7" r="8.4" fill="#fcd93c"/>
<circle cx="960.4" cy="137.3" r="17.7" fill="none" stroke="#f0930f" stroke-width="5"/>
<path d="M978.5 154.5 L988.5 165" stroke="#f0930f" stroke-width="8" stroke-linecap="round"/>
<path d="M949 138 A 11 11 0 0 1 959 126.5" fill="none" stroke="#f0930f" stroke-width="2.5" stroke-linecap="round"/>
<g fill="#000"><rect x="1002.1" y="257.1" width="13.9" height="6.8" rx="1"/><path d="M1002.1 267.1 H1016 V278.5 L1026.9 272.1 V279.6 L1040.7 272.1 V279.6 L1055 271.7 V304.8 Q1055 305.8 1054 305.8 H1003.1 Q1002.1 305.8 1002.1 304.8 Z"/><circle cx="1033.2" cy="260" r="6.6"/><circle cx="1025.5" cy="262" r="5"/><rect x="1025.5" y="260" width="8" height="7"/></g>
<rect x="1017.1" y="289" width="6.8" height="3.4" rx="1.7" fill="#f4e0e0"/>
<rect x="1017.1" y="295.7" width="6.8" height="3.4" rx="1.7" fill="#f4e0e0"/>
<rect x="1029.5" y="289" width="6.8" height="3.4" rx="1.7" fill="#f4e0e0"/>
<rect x="1029.5" y="295.7" width="6.8" height="3.4" rx="1.7" fill="#f4e0e0"/>
<rect x="1041.9" y="289" width="6.8" height="3.4" rx="1.7" fill="#f4e0e0"/>
<rect x="1041.9" y="295.7" width="6.8" height="3.4" rx="1.7" fill="#f4e0e0"/>
<rect x="1028.8" y="436.6" width="3.8" height="53.7" fill="#80d65a"/>
<path d="M1035 440.4 H1053 L1057.8 446.5 L1053 452.7 H1035 Z" fill="#80d65a"/>
<path d="M1026 449.9 H1008 L1002.9 456 L1008 462.2 H1026 Z" fill="#80d65a"/>
<path d="M1035 458.8 H1053 L1057.8 465 L1053 471.3 H1035 Z" fill="#80d65a"/>
<path d="M968.7 632.4 L996 648.8 V652.6 H940.9 V648.8 Z" fill="#1673ea"/>
<circle cx="968.7" cy="643" r="4.3" fill="#f4e0e0"/>
<rect x="947.7" y="656" width="7.4" height="20.4" fill="#1673ea"/>
<rect x="964.7" y="656" width="7.4" height="20.4" fill="#1673ea"/>
<rect x="981.9" y="656" width="7.4" height="20.4" fill="#1673ea"/>
<rect x="940.9" y="676.4" width="55.1" height="4.2" fill="#1673ea"/>
<path d="M714.5 353.2 L716.1 378.5 L737.8 370.3" fill="none" stroke="#f5f2dc" stroke-width="3.4" stroke-linecap="round" stroke-linejoin="round"/>
<path d="M737.8 370.3 C 746 367, 755 363, 754.3 360 C 753.5 356, 746 355.5, 742.5 361 C 739.5 366, 739.5 375, 744 378 C 748 380.5, 753 376, 756.2 371" fill="none" stroke="#f5f2dc" stroke-width="3.4" stroke-linecap="round" stroke-linejoin="round"/>
<path d="M772 357.6 C 768 355, 763 358, 760 366 C 757.5 373, 758 379, 761.5 378 C 765 377, 770 368, 772 358 L772.5 378" fill="none" stroke="#f5f2dc" stroke-width="3.4" stroke-linecap="round" stroke-linejoin="round"/>
<path d="M777.6 356.4 L778.9 377.8 M778.7 365 C 781 358, 785 354.5, 789 355 C 793 356, 794 362, 794.7 377.8" fill="none" stroke="#f5f2dc" stroke-width="3.4" stroke-linecap="round" stroke-linejoin="round"/>
<path d="M653.1 418.9 L655.2 450.2 M653.1 418.9 L665.7 440.1 L673.9 418.9 L677.5 450.2" fill="none" stroke="#f5f2dc" stroke-width="3.4" stroke-linecap="round" stroke-linejoin="round"/>
<path d="M694 429.5 C 690 427, 686 432, 684 438.5 C 682 445, 683 450, 686.5 449.5 C 690 448.5, 693 440, 694.2 429 L696.2 450.2" fill="none" stroke="#f5f2dc" stroke-width="3.4" stroke-linecap="round" stroke-linejoin="round"/>
<path d="M701.9 429.5 L703.1 450.2 M702.8 438 C 705 431, 709 427, 712 427.3 C 716 428, 717 436, 717.8 449.8" fill="none" stroke="#f5f2dc" stroke-width="3.4" stroke-linecap="round" stroke-linejoin="round"/>
<path d="M731 429.5 C 727 427, 724 432, 722.5 438.5 C 721 445, 721.5 450, 724.7 449.5 C 728 448.5, 732 440, 733.6 428.7 L735.2 449.8" fill="none" stroke="#f5f2dc" stroke-width="3.4" stroke-linecap="round" stroke-linejoin="round"/>
<path d="M752.3 429.5 C 748 427, 743 432, 740.5 439 C 738.5 445, 740 449, 742.8 448 C 746 447, 751 438, 753 428.7 C 753.5 440, 754 452, 752.5 460 C 751 466, 746 468.5, 741 468.5" fill="none" stroke="#f5f2dc" stroke-width="3.4" stroke-linecap="round" stroke-linejoin="round"/>
<path d="M758.1 440.9 C 764 439, 772 436, 772.8 432 C 773 428, 766 427.5, 762.5 431.5 C 758.5 436, 758.5 446, 762 449 C 766 451.5, 772 447, 776 441.7" fill="none" stroke="#f5f2dc" stroke-width="3.4" stroke-linecap="round" stroke-linejoin="round"/>
<path d="M781 425.5 L782 449.8 M781 425.5 L790.8 444.5 L797 430 L801.3 449.8" fill="none" stroke="#f5f2dc" stroke-width="3.4" stroke-linecap="round" stroke-linejoin="round"/>
<path d="M805.3 440.9 C 811 439, 819 436, 819.8 432 C 820 428, 813 427.5, 809.5 431.5 C 805.5 436, 805.5 446, 809 449 C 813 451.5, 819 447, 823.2 440.9" fill="none" stroke="#f5f2dc" stroke-width="3.4" stroke-linecap="round" stroke-linejoin="round"/>
<path d="M828 428.7 L830.5 450.7 M829.5 437 C 832 431, 835.5 427, 838.6 427.1 C 843 427.5, 844.5 436, 845.1 449.8" fill="none" stroke="#f5f2dc" stroke-width="3.4" stroke-linecap="round" stroke-linejoin="round"/>
<path d="M851.6 418.1 L853.3 451.5 M846 431.1 L859.8 427.1" fill="none" stroke="#f5f2dc" stroke-width="3.4" stroke-linecap="round" stroke-linejoin="round"/>
</svg>
</body></html>
